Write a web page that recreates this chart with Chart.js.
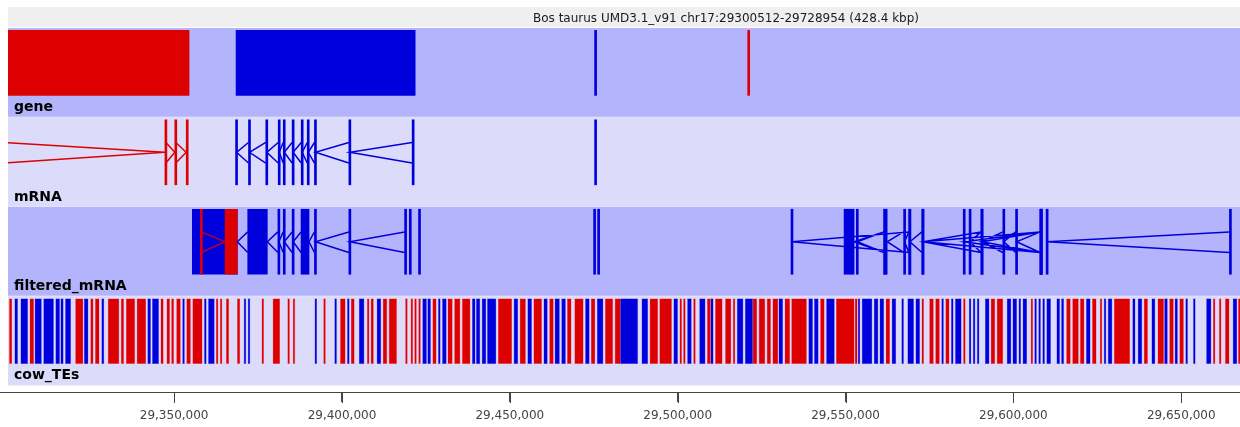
<!DOCTYPE html>
<html>
<head>
<meta charset="utf-8">
<script src="https://cdn.jsdelivr.net/npm/chart.js@4.4.1/dist/chart.umd.min.js"></script>
<style>
  html, body { margin: 0; padding: 0; background: #fff; }
  #wrap { width: 1240px; height: 427px; }
</style>
</head>
<body>
<div id="wrap"><canvas id="browser"></canvas></div>
<script>
// visible window on chr17 (bp)
const viewStart = 29300512;
const viewEnd = 29667500;
const titleText = 'Bos taurus UMD3.1_v91 chr17:29300512-29728954 (428.4 kbp)';
const tickValues = [29350000, 29400000, 29450000, 29500000, 29550000, 29600000, 29650000];

const trackNames = ['gene', 'mRNA', 'filtered_mRNA', 'cow_TEs'];

// gene track, [start, end]
const genePlus = [[29290000, 29354450], [29520850, 29521250]];
const geneMinus = [[29368450, 29421800], [29475250, 29475650]];

// mRNA track, one exon list per transcript
const mrnaPlus = [
  [[29285000, 29299000], [29347250, 29347550], [29350200, 29350500], [29353600, 29353900]]
];
const mrnaMinus = [
  [[29368300, 29368600], [29372150, 29372450], [29377300, 29377600], [29381000, 29381300],
   [29382500, 29382800], [29385150, 29385450], [29387850, 29388150], [29389650, 29389950],
   [29391800, 29392100], [29402050, 29402350], [29420900, 29421200]],
  [[29475250, 29475650]]
];

// filtered_mRNA track
const filtPlus = [
  [[29357800, 29358100], [29365160, 29368820]]
];
const filtMinus = [
  [[29355420, 29368820], [29371920, 29377760], [29380900, 29381200], [29382500, 29382800],
   [29385150, 29385450], [29387800, 29390180], [29391800, 29392100], [29402050, 29402350],
   [29418650, 29418950]],
  [[29420050, 29420350]],
  [[29422800, 29423100]],
  [[29474950, 29475250]],
  [[29476150, 29476450]],
  [[29533750, 29534050], [29568850, 29569150], [29572750, 29573050], [29607950, 29608250]],
  [[29549560, 29552540], [29561400, 29562400], [29567300, 29567600], [29568850, 29569150]],
  [[29553200, 29553500], [29561400, 29561700]],
  [[29585050, 29585350], [29607950, 29608250]],
  [[29586800, 29587100], [29590350, 29590650], [29596850, 29597150], [29600650, 29600950], [29607950, 29608250]],
  [[29572750, 29573050], [29590350, 29590650], [29607950, 29608250]],
  [[29609750, 29610050], [29664350, 29664650]]
];

// cow_TEs track, [start, end]
const tePlus = [
  [29300900, 29301700], [29307000, 29308200], [29320600, 29322900], [29325100, 29325900],
  [29326500, 29327700], [29330300, 29333600], [29334200, 29335000], [29335700, 29338300],
  [29338900, 29341600], [29346000, 29346800], [29347800, 29348700], [29349200, 29349900],
  [29350700, 29351900], [29353700, 29354900], [29355500, 29358400], [29362500, 29363100],
  [29363700, 29364300], [29365500, 29366300], [29368800, 29369600], [29376100, 29376700],
  [29379400, 29381500], [29383800, 29384400], [29385400, 29385800], [29394500, 29395100],
  [29399500, 29401000], [29402700, 29403700], [29407500, 29408100], [29408600, 29409400],
  [29412200, 29413400], [29414000, 29416300], [29418900, 29419500], [29420500, 29421100],
  [29421600, 29422200], [29422800, 29423400], [29427000, 29428100], [29431500, 29432900],
  [29433500, 29435200], [29435800, 29438200], [29446500, 29450600], [29453000, 29454700],
  [29457100, 29459500], [29461800, 29463000], [29467100, 29468300], [29469300, 29471900],
  [29474200, 29475400], [29478400, 29480700], [29481300, 29482900], [29491700, 29494100],
  [29494600, 29498200], [29500600, 29501100], [29501700, 29502300], [29504700, 29505300],
  [29508800, 29509800], [29511200, 29513300], [29514200, 29515900], [29516500, 29517100],
  [29522400, 29523600], [29524200, 29526000], [29526600, 29527700], [29528300, 29529900],
  [29531900, 29533400], [29533900, 29538400], [29542500, 29543700], [29547200, 29552600],
  [29552800, 29553500], [29562000, 29563200], [29572700, 29573300], [29575000, 29576200],
  [29576800, 29578000], [29579800, 29580900], [29585100, 29585700], [29593300, 29594500],
  [29595100, 29596900], [29605200, 29605800], [29615800, 29617000], [29617600, 29619400],
  [29619900, 29621100], [29623500, 29624700], [29625800, 29626400], [29630000, 29634700],
  [29638900, 29640000], [29643000, 29644800], [29646500, 29647700], [29649500, 29650700],
  [29659500, 29660100], [29661300, 29661900], [29663100, 29664300], [29667000, 29667600]
];
const teMinus = [
  [29302500, 29303400], [29304300, 29306400], [29308500, 29310500], [29311100, 29314100],
  [29314700, 29315900], [29316200, 29317000], [29317600, 29319200], [29323200, 29324400],
  [29328400, 29329100], [29342100, 29343000], [29343500, 29345400], [29352500, 29353100],
  [29359000, 29359600], [29360200, 29362000], [29370800, 29371400], [29372000, 29372600],
  [29391900, 29392500], [29397800, 29398400], [29401600, 29402100], [29405100, 29406600],
  [29410400, 29411600], [29424000, 29425200], [29425500, 29426400], [29428700, 29429300],
  [29429900, 29431100], [29438800, 29439700], [29440000, 29441100], [29441700, 29442900],
  [29443300, 29445900], [29451200, 29452400], [29455300, 29456500], [29460100, 29461200],
  [29463400, 29464800], [29465400, 29466600], [29472500, 29473700], [29476000, 29477800],
  [29482800, 29488100], [29489300, 29491100], [29498800, 29500000], [29502900, 29504100],
  [29506500, 29508200], [29509800, 29510600], [29517700, 29519500], [29520100, 29522400],
  [29530100, 29531300], [29539000, 29540200], [29540700, 29541900], [29544300, 29546700],
  [29553700, 29554300], [29554900, 29557900], [29558500, 29559700], [29560200, 29561400],
  [29563800, 29565000], [29566700, 29567300], [29568500, 29570300], [29570900, 29572100],
  [29578600, 29579200], [29581500, 29582100], [29582700, 29584500], [29586800, 29587400],
  [29588000, 29588600], [29589200, 29589800], [29591600, 29592800], [29598100, 29599300],
  [29599800, 29601000], [29601600, 29602200], [29602800, 29604000], [29606300, 29606900],
  [29607500, 29608100], [29608700, 29609300], [29609900, 29611100], [29612900, 29613800],
  [29614300, 29615000], [29621700, 29622900], [29627000, 29627600], [29628200, 29629400],
  [29635500, 29636300], [29637100, 29638300], [29641200, 29642200], [29645000, 29645900],
  [29648100, 29648900], [29651300, 29651900], [29653600, 29654200], [29657500, 29658900],
  [29665400, 29666600]
];

const RED = '#dd0000';
const BLUE = '#0000dd';
const BAND_DARK = '#b4b4fc';
const BAND_LIGHT = '#dcdcfa';
const AXIS = '#444';

// vertical placement inside a track (track height = 1 unit)
const FEAT_MID = 0.39, ARM_TOP = 0.28, ARM_BOT = 0.51;

function spanBars(track, spans) {
  return spans.map(([s, e]) => ({ y: track + FEAT_MID, x: [s, e] }));
}

function intronLines(track, transcripts, strand) {
  const pts = [];
  transcripts.forEach(exons => {
    for (let i = 0; i < exons.length - 1; i++) {
      const a = exons[i][1], b = exons[i + 1][0];
      const tip = strand === '+' ? b : a;
      const arm = strand === '+' ? a : b;
      pts.push({ x: arm, y: track + ARM_TOP }, { x: tip, y: track + FEAT_MID },
               { x: arm, y: track + ARM_BOT }, { x: arm, y: null });
    }
  });
  return pts;
}

function barSet(data, color, order, edge) {
  return {
    type: 'bar', indexAxis: 'y', data, backgroundColor: color,
    borderColor: edge || color, borderWidth: edge ? 0.6 : 0, borderSkipped: false,
    grouped: false, barThickness: 65, minBarLength: 2, clip: 0, order
  };
}

function lineSet(data, color) {
  return {
    type: 'line', data, borderColor: color, borderWidth: 1.5, pointRadius: 0,
    tension: 0, spanGaps: false, fill: false, clip: 0, order: 0
  };
}

const datasets = [
  barSet(spanBars(0, geneMinus), BLUE, 2),
  barSet(spanBars(0, genePlus), RED, 1),
  barSet(spanBars(1, mrnaMinus.flat()), BLUE, 2),
  barSet(spanBars(1, mrnaPlus.flat()), RED, 1),
  lineSet(intronLines(1, mrnaMinus, '-'), BLUE),
  lineSet(intronLines(1, mrnaPlus, '+'), RED),
  barSet(spanBars(2, filtMinus.flat()), BLUE, 2),
  barSet(spanBars(2, filtPlus.flat()), RED, 1),
  lineSet(intronLines(2, filtMinus, '-'), BLUE),
  lineSet(intronLines(2, filtPlus, '+'), 'rgba(221,0,0,0.8)'),
  barSet(spanBars(3, teMinus), BLUE, 2, 'rgba(120,120,240,0.9)'),
  barSet(spanBars(3, tePlus), RED, 1, 'rgba(240,130,150,0.9)')
];

// track bands, title strip, track labels and axis tick marks
const trackDecor = {
  id: 'trackDecor',
  beforeDatasetsDraw(chart) {
    const { ctx, chartArea, scales } = chart;
    const y = scales.y;
    ctx.save();
    ctx.fillStyle = '#efefef';
    ctx.fillRect(chartArea.left, 7, chartArea.right - chartArea.left, 20);
    ctx.fillStyle = '#1a1a1a';
    ctx.font = '12px "DejaVu Sans"';
    ctx.textAlign = 'center';
    ctx.textBaseline = 'alphabetic';
    ctx.fillText(titleText, 726, 22);
    trackNames.forEach((name, i) => {
      const top = y.getPixelForValue(i);
      const bottom = y.getPixelForValue(i + 1);
      ctx.fillStyle = i % 2 === 0 ? BAND_DARK : BAND_LIGHT;
      ctx.fillRect(chartArea.left, top, chartArea.right - chartArea.left, bottom - top);
      ctx.fillStyle = 'rgba(255,255,255,0.35)';
      ctx.fillRect(chartArea.left, bottom - 1, chartArea.right - chartArea.left, 1);
    });
    ctx.restore();
  },
  afterDatasetsDraw(chart) {
    const { ctx, chartArea, scales } = chart;
    const y = scales.y, x = scales.x;
    ctx.save();
    ctx.fillStyle = '#000';
    ctx.font = 'bold 14px "DejaVu Sans"';
    ctx.textAlign = 'left';
    ctx.textBaseline = 'alphabetic';
    trackNames.forEach((name, i) => {
      ctx.fillText(name, chartArea.left + 6, y.getPixelForValue(i + 0.93));
    });
    // axis rule across the whole window, with tick marks
    ctx.strokeStyle = AXIS;
    ctx.lineWidth = 1;
    ctx.beginPath();
    ctx.moveTo(0, chartArea.bottom + 0.5);
    ctx.lineTo(chartArea.right, chartArea.bottom + 0.5);
    tickValues.forEach(v => {
      const px = Math.round(x.getPixelForValue(v)) + 0.5;
      ctx.moveTo(px, chartArea.bottom);
      ctx.lineTo(px, chartArea.bottom + 11);
    });
    ctx.stroke();
    ctx.restore();
  }
};

new Chart(document.getElementById('browser'), {
  type: 'bar',
  data: { datasets },
  options: {
    responsive: true,
    maintainAspectRatio: false,
    animation: false,
    layout: { padding: { left: 8, right: 0, top: 28, bottom: 0 } },
    plugins: { legend: { display: false }, tooltip: { enabled: false } },
    scales: {
      x: {
        type: 'linear',
        position: 'bottom',
        offset: false,
        min: viewStart,
        max: viewEnd,
        afterBuildTicks: s => { s.ticks = tickValues.map(v => ({ value: v })); },
        afterFit: s => { s.height = 35; },
        grid: { offset: false, drawOnChartArea: false, drawTicks: true, tickLength: 10, color: AXIS, tickColor: AXIS },
        border: { display: true, color: AXIS },
        ticks: {
          autoSkip: false, maxRotation: 0, padding: 7, color: '#444',
          font: { family: 'DejaVu Sans', size: 12 },
          callback: v => Number(v).toLocaleString('en-US')
        }
      },
      y: {
        type: 'linear',
        display: false,
        offset: false,
        grid: { offset: false },
        reverse: true,
        min: 0,
        max: 4.07
      }
    }
  },
  plugins: [trackDecor]
});
</script>
</body>
</html>
